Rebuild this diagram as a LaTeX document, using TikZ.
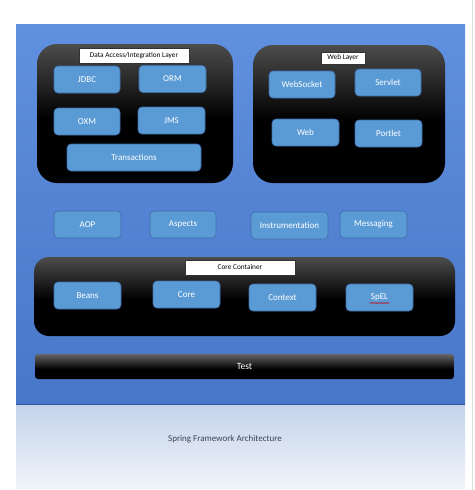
\documentclass[tikz,border=0pt]{standalone}
\usepackage{fontspec}
\setmainfont{Carlito}
\usetikzlibrary{decorations.pathmorphing}
\definecolor{bgtop}{RGB}{96,144,224}
\definecolor{bgbot}{RGB}{72,118,200}
\definecolor{bgedge}{RGB}{52,88,150}
\definecolor{boxfill}{RGB}{91,155,213}
\definecolor{boxline}{RGB}{62,108,168}
\definecolor{captop}{RGB}{196,211,234}
\definecolor{capbot}{RGB}{240,244,250}
\definecolor{captext}{RGB}{60,66,84}
\definecolor{pageline}{RGB}{222,222,226}
\pgfdeclareverticalshading{darkbox}{100bp}{color(0bp)=(black); color(25bp)=(black); color(48bp)=(black); color(75bp)=(black!70); color(100bp)=(black!70)}
\pgfdeclareverticalshading{testbar}{100bp}{color(0bp)=(black); color(25bp)=(black); color(45bp)=(black); color(75bp)=(black!60); color(100bp)=(black!60)}
\tikzset{
  modbox/.style={rectangle, rounded corners=4pt, fill=boxfill, draw=boxline, line width=0.6pt,
    text=white, font=\fontsize{9}{10}\selectfont, inner sep=0pt, minimum height=27pt},
  layerbox/.style={rectangle, shading=darkbox, draw=none, inner sep=0pt},
  titlebox/.style={rectangle, fill=white, draw=black!80, line width=0.5pt, inner sep=0pt,
    font=\fontsize{7.3}{8}\selectfont, text=black},
}
\begin{document}
\begin{tikzpicture}[x=1pt,y=-1pt]
\useasboundingbox (0,0) rectangle (474,490);
\fill[white] (0,0) rectangle (474,490);
% page edge line
\draw[pageline, line width=0.8pt] (472,0) -- (472,490);
% caption area
\shade[top color=captop, bottom color=capbot] (16,404) rectangle (465,488);
% blue background
\shade[top color=bgtop, bottom color=bgbot] (16,24) rectangle (465,404);
\draw[bgedge, line width=0.8pt] (16,404) -- (465,404);

% containers
\node[layerbox, rounded corners=20pt, minimum width=196pt, minimum height=139pt] (data) at (135,113.5) {};
\node[layerbox, rounded corners=20pt, minimum width=192pt, minimum height=138pt] (weblayer) at (349,114) {};
\node[layerbox, rounded corners=15pt, minimum width=421pt, minimum height=79pt] (core) at (244.5,296.5) {};
\node[rectangle, shading=testbar, rounded corners=3pt, inner sep=0pt, minimum width=419pt, minimum height=25pt,
  text=white, font=\fontsize{9.5}{10}\selectfont] (test) at (244.5,366.5) {Test};

% titles
\node[titlebox, minimum width=110pt, minimum height=15pt] (datatitle) at (134,55.5) {Data Access/Integration Layer};
\node[titlebox, minimum width=44pt, minimum height=12pt] (webtitle) at (343,58) {Web Layer};
\node[titlebox, minimum width=110pt, minimum height=15pt] (coretitle) at (240,267.5) {Core Container};

% data access modules
\node[modbox, minimum width=66pt] (jdbc) at (87,79.5) {JDBC};
\node[modbox, minimum width=67pt] (orm) at (172.5,79) {ORM};
\node[modbox, minimum width=66pt] (oxm) at (87,121.5) {OXM};
\node[modbox, minimum width=67pt] (jms) at (171.5,120.5) {JMS};
\node[modbox, minimum width=134pt] (trans) at (134,157.5) {Transactions};

% web modules
\node[modbox, minimum width=66pt] (websocket) at (302,84.5) {WebSocket};
\node[modbox, minimum width=66pt] (servlet) at (388,82.5) {Servlet};
\node[modbox, minimum width=67pt] (web) at (305.5,132.5) {Web};
\node[modbox, minimum width=67pt] (portlet) at (388.5,133.5) {Portlet};

% middle row
\node[modbox, minimum width=67pt] (aop) at (87.5,224.5) {AOP};
\node[modbox, minimum width=66pt] (aspects) at (183,224.5) {Aspects};
\node[modbox, minimum width=77pt] (instr) at (289.5,225.5) {Instrumentation};
\node[modbox, minimum width=67pt] (msg) at (373.5,224.5) {Messaging};

% core modules
\node[modbox, minimum width=67pt] (beans) at (87.5,295.5) {Beans};
\node[modbox, minimum width=67pt] (coremod) at (186.5,294.5) {Core};
\node[modbox, minimum width=67pt] (context) at (282.5,297.5) {Context};
\node[modbox, minimum width=67pt] (spel) at (379.5,297.5) {SpEL};
\draw[red!80!black, line width=0.5pt, decorate, decoration={snake, amplitude=0.5pt, segment length=2.5pt}]
  ([xshift=-10pt,yshift=-5.5pt]spel.center) -- ([xshift=10pt,yshift=-5.5pt]spel.center);

% caption
\node[font=\fontsize{9}{10}\selectfont, text=captext, inner sep=0pt] (caption) at (225,439) {Spring Framework Architecture};
\end{tikzpicture}
\end{document}
